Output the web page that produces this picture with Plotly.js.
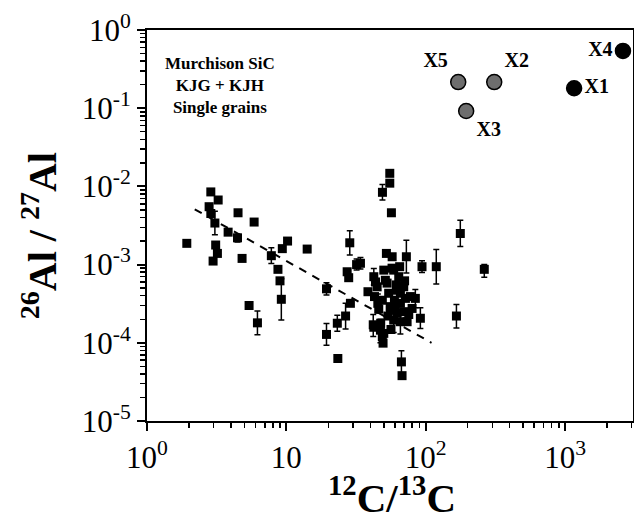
<!DOCTYPE html>
<html>
<head>
<meta charset="utf-8">
<script src="https://cdn.plot.ly/plotly-3.0.1.min.js"></script>
<style>html,body{margin:0;padding:0;background:#fff;}#chart{width:634px;height:523px;}</style>
</head>
<body>
<div id="chart"></div>
<script>
// ---- Data: single SiC grains (12C/13C vs 26Al/27Al) ----
const ratioC = [
  1.93, 2.87, 3.24, 2.79, 2.87, 3.07, 3.11, 3.2, 2.98, 4.5,
  5.87, 3.82, 4.46, 4.81, 5.4, 6.2, 7.8, 9.35, 10.2, 14.1,
  8.7, 9.0, 9.2, 28.5, 27.3, 31.9, 34, 28, 19.4, 28.8,
  26.6, 23.2, 19.4, 23.4, 55.2, 55.2, 48.9, 56.7, 177, 263,
  166, 94, 119, 72.6, 91.5, 66.9, 67.6, 42.4, 44.8, 42.9,
  45.3, 42, 47.3, 49.4, 52.8, 58.9, 64, 62.3, 69.5, 77.6,
  84.2, 65.8, 55.8, 62.3, 69.5, 79.8, 58.9, 65.8, 73.5, 50,
  47.5, 54.2, 50, 48.8, 59.6, 71.5, 65.8, 56.3, 52.2, 57.4,
  57.3, 65, 43.6, 51.3, 42.4, 48.8, 55.6, 38.5, 60.5, 75.5,
  53.5, 46, 70.5, 61.5
];
const ratioAl = [
  1.87e-3, 8.5e-3, 6.7e-3, 5.5e-3, 4.5e-3, 3.4e-3, 1.78e-3, 1.39e-3, 1.11e-3, 4.6e-3,
  3.5e-3, 2.6e-3, 2.2e-3, 1.2e-3, 3.0e-4, 1.8e-4, 1.3e-3, 1.6e-3, 2.0e-3, 1.58e-3,
  8.7e-4, 6.2e-4, 3.6e-4, 1.9e-3, 8.1e-4, 1.0e-3, 1.04e-3, 6.8e-4, 4.9e-4, 3.2e-4,
  2.2e-4, 1.78e-4, 1.28e-4, 6.3e-5, 1.47e-2, 1.1e-2, 8.4e-3, 4.6e-3, 2.5e-3, 8.7e-4,
  2.2e-4, 9.4e-4, 9.4e-4, 1.26e-3, 2.06e-4, 5.7e-5, 3.8e-5, 7.0e-4, 5.2e-4, 3.9e-4,
  3.2e-4, 1.7e-4, 1.45e-4, 9.9e-5, 5.8e-4, 8.5e-4, 7.0e-4, 4.7e-4, 5.2e-4, 3.9e-4,
  3.7e-4, 3.2e-4, 2.6e-4, 2.4e-4, 2.5e-4, 2.75e-4, 1.95e-4, 1.86e-4, 1.86e-4, 1.32e-4,
  1.78e-4, 4.3e-4, 8.5e-4, 3.5e-4, 3.5e-4, 3.7e-4, 4.3e-4, 1.48e-4, 1.39e-3, 1.26e-3,
  9.0e-4, 9.4e-4, 6.0e-4, 6.3e-4, 1.58e-4, 1.2e-4, 2.9e-4, 4.5e-4, 2.9e-4, 2.3e-4,
  2.2e-4, 2.7e-4, 6.2e-4, 5.5e-4
];
// upper / lower ends of the 1-sigma error bars (null = no visible bar)
const alHigh = [
  null, null, null, null, null, 4.8e-3, null, null, null, null,
  null, null, 2.45e-3, null, null, 2.55e-4, 1.64e-3, null, null, null,
  null, null, 6.6e-4, 2.7e-3, null, 1.18e-3, 1.23e-3, null, 5.85e-4, null,
  3.2e-4, 2.25e-4, 1.77e-4, null, null, null, 1.06e-2, null, 3.7e-3, 1.0e-3,
  3.1e-4, 1.12e-3, 1.56e-3, 2.05e-3, 2.8e-4, 7.9e-5, null, 8.9e-4, null, null,
  4.2e-4, 2.3e-4, 2.0e-4, null, null, null, null, null, null, null,
  4.8e-4, null, null, null, null, null, 2.7e-4, 2.5e-4, null, null,
  null, null, null, null, null, null, null, null, null, null,
  null, null, null, null, null, null, null, null, null, null,
  null, null, null, null
];
const alLow = [
  null, null, null, null, null, 2.4e-3, null, null, null, null,
  null, null, 1.95e-3, null, null, 1.27e-4, 1.03e-3, null, null, null,
  null, null, 1.95e-4, 1.33e-3, null, 8.5e-4, 8.8e-4, null, 4.1e-4, null,
  1.5e-4, 1.4e-4, 9.3e-5, null, null, null, 6.7e-3, null, 1.7e-3, 6.9e-4,
  1.55e-4, 7.9e-4, 5.65e-4, 7.8e-4, 1.52e-4, 4.1e-5, null, 5.5e-4, null, null,
  2.4e-4, 1.2e-4, 1.0e-4, null, null, null, null, null, null, null,
  2.8e-4, null, null, null, null, null, 1.35e-4, 1.3e-4, null, null,
  null, null, null, null, null, null, null, null, null, null,
  null, null, null, null, null, null, null, null, null, null,
  null, null, null, null
];

// X grains
const xNames = ['X1', 'X2', 'X3', 'X4', 'X5'];
const xRatioC = [1160, 310, 195, 2600, 171];
const xRatioAl = [0.18, 0.216, 0.092, 0.54, 0.216];
const xSolid = [true, false, false, true, false];
const xLabelPos = ['middle right', 'top right', 'bottom right', 'middle left', 'top left'];

// dashed trend line
const fitC = [2.2, 110];
const fitAl = [5.1e-3, 1.0e-4];

// axis ticks
const xTickVals = [1, 10, 100, 1000];
const xTickText = ['10<sup>0</sup>', '10', '10<sup>2</sup>', '10<sup>3</sup>'];
const yTickVals = [1e-5, 1e-4, 1e-3, 1e-2, 1e-1, 1];
const yTickText = ['10<sup>-5</sup>', '10<sup>-4</sup>', '10<sup>-3</sup>', '10<sup>-2</sup>', '10<sup>-1</sup>', '10<sup>0</sup>'];

function minorVals(lo, hi) {
  const v = [];
  for (let e = lo; e < hi; e++) for (let m = 2; m <= 9; m++) v.push(m * Math.pow(10, e));
  return v;
}

const errPlus = ratioAl.map((y, i) => alHigh[i] == null ? 0 : alHigh[i] - y);
const errMinus = ratioAl.map((y, i) => alLow[i] == null ? 0 : y - alLow[i]);

const serif = 'Liberation Serif, Times New Roman, serif';

const traces = [
  {
    x: fitC, y: fitAl, type: 'scatter', mode: 'lines',
    line: {color: '#000', width: 2, dash: '8px,7px'},
    hoverinfo: 'skip', showlegend: false
  },
  {
    x: ratioC, y: ratioAl, type: 'scatter', mode: 'markers',
    marker: {symbol: 'square', size: 9, color: '#000'},
    error_y: {type: 'data', symmetric: false, array: errPlus, arrayminus: errMinus,
              color: '#000', thickness: 1.5, width: 3},
    showlegend: false
  },
  {
    x: xRatioC, y: xRatioAl, type: 'scatter', mode: 'markers+text',
    text: xNames, textposition: xLabelPos,
    textfont: {family: serif, size: 20, color: '#000', weight: 'bold'},
    marker: {symbol: 'circle', size: 15,
             color: xSolid.map(s => s ? '#000' : '#6e6e6e'),
             line: {color: '#000', width: 1.5}},
    cliponaxis: false, showlegend: false
  }
];

const layout = {
  width: 634, height: 523,
  margin: {l: 147, r: 1, t: 30, b: 102, pad: 0},
  paper_bgcolor: '#fff', plot_bgcolor: '#fff',
  showlegend: false,
  font: {family: serif, color: '#000'},
  xaxis: {
    type: 'log', range: [0, 3.487], autorange: false,
    tickmode: 'array', tickvals: xTickVals, ticktext: xTickText,
    ticks: 'outside', ticklen: 8, tickwidth: 2, tickcolor: '#000',
    minor: {tickmode: 'array', tickvals: minorVals(0, 4), ticks: 'outside', ticklen: 5, tickwidth: 1.5, tickcolor: '#000', showgrid: false},
    showline: true, linewidth: 2, linecolor: '#000', mirror: true,
    showgrid: false, zeroline: false,
    tickfont: {family: serif, size: 31, color: '#000'},
    automargin: false
  },
  yaxis: {
    type: 'log', range: [-5, 0], autorange: false,
    tickmode: 'array', tickvals: yTickVals, ticktext: yTickText,
    ticks: 'outside', ticklen: 8, tickwidth: 2, tickcolor: '#000',
    minor: {tickmode: 'array', tickvals: minorVals(-5, 0), ticks: 'outside', ticklen: 5, tickwidth: 1.5, tickcolor: '#000', showgrid: false},
    showline: true, linewidth: 2, linecolor: '#000', mirror: true,
    showgrid: false, zeroline: false,
    tickfont: {family: serif, size: 31, color: '#000'},
    automargin: false
  },
  annotations: [
    {xref: 'paper', yref: 'paper', x: 0.15, y: 0.945, xanchor: 'center', yanchor: 'top',
     showarrow: false, align: 'center',
     text: 'Murchison SiC<br>KJG + KJH<br>Single grains',
     font: {family: serif, size: 17, color: '#000', weight: 'bold'}},
    {xref: 'paper', yref: 'paper', x: 0.505, y: -0.261, xanchor: 'center', yanchor: 'bottom',
     showarrow: false, text: '<sup>12</sup>C/<sup>13</sup>C',
     font: {family: serif, size: 41, color: '#000', weight: 'bold'}},
    {xref: 'paper', yref: 'paper', x: -0.222, y: 0.473, xanchor: 'center', yanchor: 'middle',
     textangle: -90, showarrow: false, text: '<sup>26</sup>Al / <sup>27</sup>Al',
     font: {family: serif, size: 40, color: '#000', weight: 'bold'}}
  ]
};

Plotly.newPlot('chart', traces, layout, {displayModeBar: false, staticPlot: true});
</script>
</body>
</html>
